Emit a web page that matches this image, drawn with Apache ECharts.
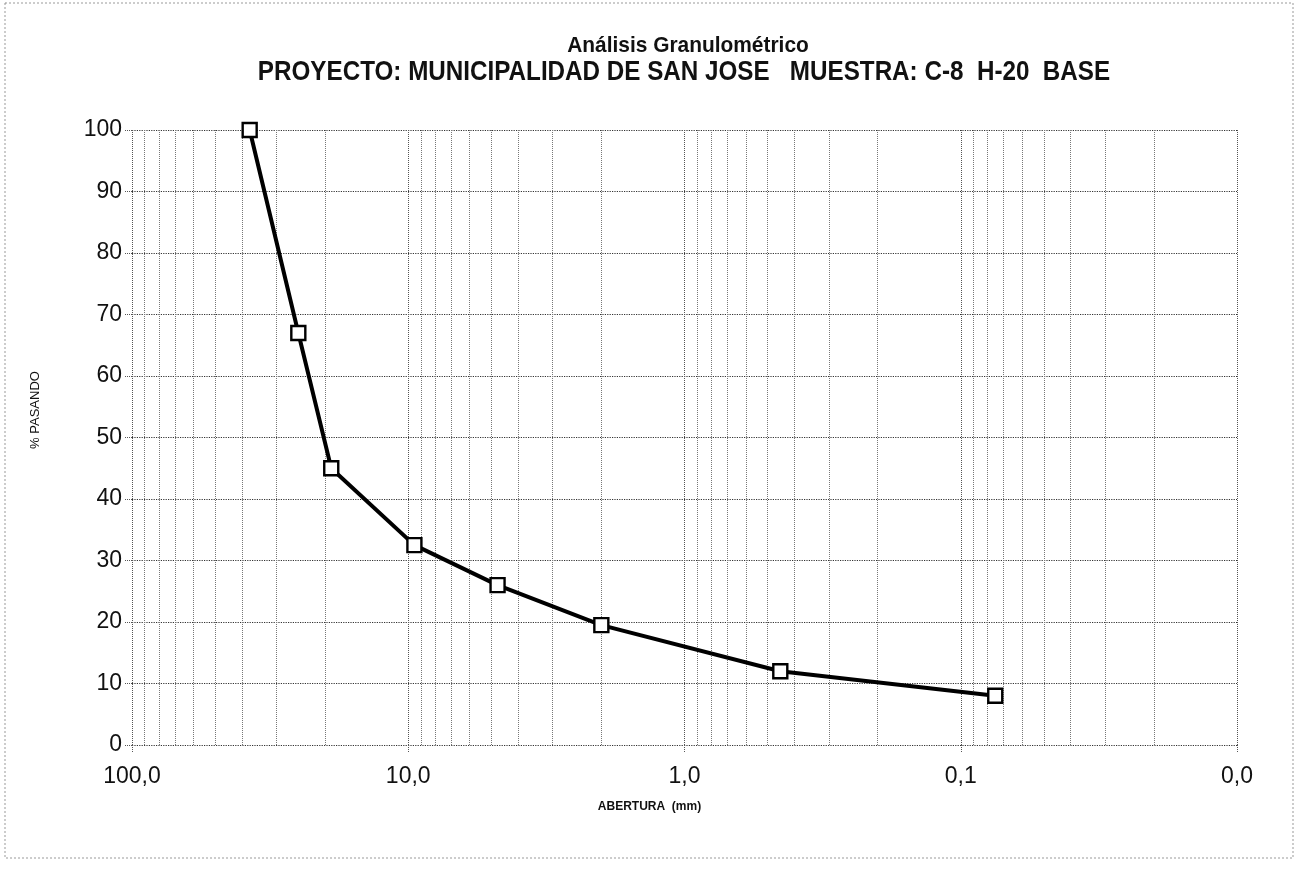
<!DOCTYPE html>
<html>
<head>
<meta charset="utf-8">
<script src="https://cdn.jsdelivr.net/npm/echarts@6/dist/echarts.min.js"></script>
<style>
html,body{margin:0;padding:0;background:#fff;}
#chart{width:1298px;height:888px;}
</style>
</head>
<body>
<div id="chart"></div>
<script>
// ---- data ----
const aperturesMm = [37.5, 25, 19, 9.5, 4.75, 2.0, 0.45, 0.075];
const percentPassing = [100, 67, 45, 32.5, 26, 19.5, 12, 8];
const yTicks = [0, 10, 20, 30, 40, 50, 60, 70, 80, 90, 100];
const xDecades = [100, 10, 1, 0.1, 0.01];
const titleText = 'Análisis Granulométrico';
const subtitleText = 'PROYECTO: MUNICIPALIDAD DE SAN JOSE   MUESTRA: C-8  H-20  BASE';
const xName = 'ABERTURA  (mm)';
const yName = '% PASANDO';

// minor log gridlines (2..9 within each decade)
const minorGrid = [];
[0.01, 0.1, 1, 10].forEach(d => { for (let k = 2; k <= 9; k++) minorGrid.push(+(k * d).toPrecision(3)); });

const pts = aperturesMm.map((x, i) => [x, percentPassing[i]]);
const gridColor = '#555';
const sans = '"Liberation Sans", Arial, sans-serif';

const chart = echarts.init(document.getElementById('chart'), null, {renderer: 'canvas'});
chart.setOption({
  backgroundColor: '#fff',
  animation: false,
  graphic: [
    {type: 'rect', shape: {x: 5, y: 3, width: 1288, height: 855}, silent: true,
     style: {fill: 'none', stroke: '#999', lineWidth: 1, lineDash: [2, 2]}},
    {type: 'text', x: 688, y: 46, scaleX: 0.95, silent: true,
     style: {text: titleText, font: 'bold 22px ' + sans, fill: '#111', textAlign: 'center', textVerticalAlign: 'middle'}},
    {type: 'text', x: 684, y: 72, scaleX: 0.865, silent: true,
     style: {text: subtitleText, font: 'bold 28px ' + sans, fill: '#111', textAlign: 'center', textVerticalAlign: 'middle'}}
  ],
  grid: {left: 132, right: 61, top: 130, bottom: 143, containLabel: false},
  xAxis: {
    type: 'log', logBase: 10, inverse: true, min: 0.01, max: 100,
    name: xName, nameLocation: 'middle', nameGap: 56,
    nameTextStyle: {fontFamily: sans, fontWeight: 'bold', fontSize: 12, color: '#111', padding: [0, 70, 0, 0]},
    axisLine: {show: false},
    axisTick: {show: true, length: 8, lineStyle: {color: gridColor, type: 'dotted'}},
    axisLabel: {margin: 20, fontFamily: sans, fontSize: 23, color: '#111',
                formatter: v => Number(v).toFixed(1).replace('.', ',')},
    splitLine: {show: true, lineStyle: {color: gridColor, type: 'dotted', width: 1}}
  },
  yAxis: {
    type: 'value', min: 0, max: 100, interval: 10,
    name: yName, nameLocation: 'middle', nameGap: 90, nameRotate: 90,
    nameTextStyle: {fontFamily: sans, fontSize: 13, color: '#111', padding: [0, 0, 0, 55]},
    axisLine: {show: false},
    axisTick: {show: true, length: 8, lineStyle: {color: gridColor, type: 'dotted'}},
    axisLabel: {margin: 10, fontFamily: sans, fontSize: 23, color: '#111',
                formatter: v => yTicks.includes(v) ? String(v) : ''},
    splitLine: {show: true, lineStyle: {color: '#333', type: 'dotted', width: 1.2}}
  },
  series: [
    {
      type: 'line', data: pts, silent: true, showSymbol: false, z: 1,
      lineStyle: {opacity: 0},
      markLine: {
        silent: true, symbol: ['none', 'none'], label: {show: false}, animation: false,
        lineStyle: {color: '#777', type: 'dotted', width: 1},
        data: minorGrid.map(v => ({xAxis: v}))
      }
    },
    {
      type: 'line', data: pts, z: 5,
      symbol: 'rect', symbolSize: 14, showAllSymbol: true,
      lineStyle: {color: '#000', width: 4},
      itemStyle: {color: '#fff', borderColor: '#000', borderWidth: 2.4}
    }
  ]
});
</script>
</body>
</html>
